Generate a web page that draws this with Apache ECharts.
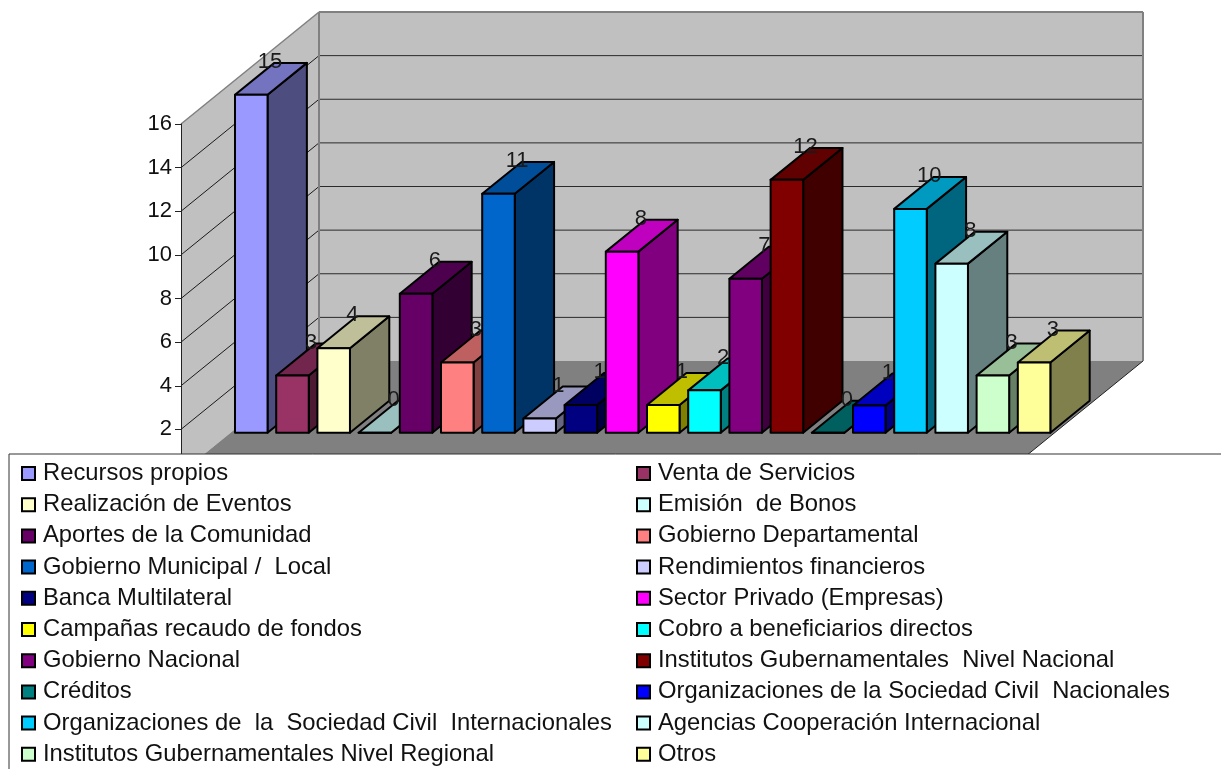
<!DOCTYPE html>
<html>
<head>
<meta charset="utf-8">
<style>html,body{margin:0;padding:0;background:#fff}#chart{width:1221px;height:769px}</style>
<script src="https://cdn.jsdelivr.net/npm/echarts@6/dist/echarts.min.js"></script>
</head>
<body>
<div id="chart"></div>
<script>
// Funding sources, in chart order
const categories = [
  'Recursos propios', 'Venta de Servicios', 'Realización de Eventos', 'Emisión  de Bonos',
  'Aportes de la Comunidad', 'Gobierno Departamental', 'Gobierno Municipal /  Local', 'Rendimientos financieros',
  'Banca Multilateral', 'Sector Privado (Empresas)', 'Campañas recaudo de fondos', 'Cobro a beneficiarios directos',
  'Gobierno Nacional', 'Institutos Gubernamentales  Nivel Nacional', 'Créditos', 'Organizaciones de la Sociedad Civil  Nacionales',
  'Organizaciones de  la  Sociedad Civil  Internacionales', 'Agencias Cooperación Internacional', 'Institutos Gubernamentales Nivel Regional', 'Otros'
];
// Underlying values; the labels above the bars show them rounded to whole numbers
const values = [15.49, 2.62, 3.87, 0, 6.37, 3.22, 10.95, 0.65, 1.27, 8.3, 1.27, 1.94, 7.06, 11.59, 0, 1.25, 10.26, 7.75, 2.62, 3.22];
const colors = [
  '#9999FF', '#993366', '#FFFFCC', '#CCFFFF', '#660066', '#FF8080', '#0066CC', '#CCCCFF', '#000080', '#FF00FF',
  '#FFFF00', '#00FFFF', '#800080', '#800000', '#008080', '#0000FF', '#00CCFF', '#CCFFFF', '#CCFFCC', '#FFFF99'
];
const yTicks = [2, 4, 6, 8, 10, 12, 14, 16];

const FONT = '"Liberation Sans", Arial, sans-serif';
const WALL = '#C0C0C0', FLOOR = '#808080', EDGE = '#808080';
// Oblique projection of the chart box: how far the back plane sits from the front plane
const DEPTH = { dx: 138, dy: -112 };
const BAR_PLANE = 0.36;    // position of the bar row inside the depth
const BAR_DEPTH = 0.285;   // bar thickness as a share of the depth
const BAR_WIDTH = 0.79;    // front face width as a share of the band

function shade(hex, k) {
  const n = parseInt(hex.slice(1), 16);
  const c = [n >> 16, (n >> 8) & 255, n & 255].map(v => Math.round(v * k));
  return `rgb(${c[0]},${c[1]},${c[2]})`;
}

function renderBox(params, api) {
  const cs = params.coordSys;
  const x0 = cs.x, x1 = cs.x + cs.width, yb = cs.y + cs.height, yt = cs.y;
  const dx = DEPTH.dx, dy = DEPTH.dy;
  const children = [];
  const poly = (pts, fill, z2) => children.push({ type: 'polygon', z2, shape: { points: pts }, style: { fill, stroke: null } });
  const line = (a, b, stroke, lw, z2) => children.push({
    type: 'line', z2, shape: { x1: a[0], y1: a[1], x2: b[0], y2: b[1] }, style: { stroke, lineWidth: lw }
  });
  // side wall, back wall, floor
  poly([[x0, yb], [x0, yt], [x0 + dx, yt + dy], [x0 + dx, yb + dy]], WALL, 1);
  poly([[x0 + dx, yb + dy], [x0 + dx, yt + dy], [x1 + dx, yt + dy], [x1 + dx, yb + dy]], WALL, 1);
  poly([[x0, yb], [x0 + dx, yb + dy], [x1 + dx, yb + dy], [x1, yb]], FLOOR, 2);
  // grid lines run across the side wall and along the back wall
  yTicks.slice(0, -1).forEach(v => {
    const y = api.coord([0, v])[1];
    line([x0, y], [x0 + dx, y + dy], '#1a1a1a', 1, 3);
    line([x0 + dx, y + dy], [x1 + dx, y + dy], '#2a2a2a', 1, 3);
  });
  // box outline
  line([x0, yt], [x0 + dx, yt + dy], EDGE, 1.5, 4);
  line([x0 + dx, yt + dy], [x1 + dx, yt + dy], EDGE, 2, 4);
  line([x0 + dx, yt + dy], [x0 + dx, yb + dy], EDGE, 2, 4);
  line([x1 + dx, yt + dy], [x1 + dx, yb + dy], EDGE, 2, 4);
  line([x1 + dx, yb + dy], [x1, yb], '#222', 1, 4);
  return { type: 'group', children };
}

function renderBar(params, api) {
  const band = api.size([1, 0])[0];
  const top = api.coord([api.value(0), api.value(1)]);
  const base = api.coord([api.value(0), 0]);
  const w = band * BAR_WIDTH;
  const ox = DEPTH.dx * BAR_PLANE, oy = DEPTH.dy * BAR_PLANE;
  const ddx = DEPTH.dx * BAR_DEPTH, ddy = DEPTH.dy * BAR_DEPTH;
  const l = top[0] + ox - w / 2, r = l + w;
  const t = top[1] + oy, b = base[1] + oy;
  const color = colors[api.value(2)];
  const border = { stroke: '#000', lineWidth: 2, lineJoin: 'round' };
  return {
    type: 'group',
    children: [
      { type: 'polygon', shape: { points: [[r, b], [r, t], [r + ddx, t + ddy], [r + ddx, b + ddy]] },
        style: Object.assign({ fill: shade(color, 0.5) }, border) },
      { type: 'polygon', shape: { points: [[l, t], [r, t], [r + ddx, t + ddy], [l + ddx, t + ddy]] },
        style: Object.assign({ fill: shade(color, 0.75) }, border) },
      { type: 'rect', shape: { x: l, y: t, width: w, height: b - t },
        style: Object.assign({ fill: color }, border) },
      { type: 'text', z2: 50, style: {
          text: String(Math.round(api.value(1))),
          x: l + w / 2 + ddx / 2 - 1, y: t + ddy - 1,
          align: 'center', verticalAlign: 'middle',
          font: '22px ' + FONT, fill: '#1a1a1a'
      } }
    ]
  };
}

const barSeries = categories.map((name, i) => ({
  type: 'custom',
  name,
  z: 5,
  clip: false,
  silent: true,
  itemStyle: { color: colors[i] },
  encode: { x: 0, y: 1 },
  renderItem: renderBar,
  data: [[i, values[i], i]]
}));

const legendBase = {
  orient: 'vertical',
  z: 200,
  top: 461,
  selectedMode: false,
  icon: 'rect',
  itemWidth: 13,
  itemHeight: 13,
  itemGap: 6.2,
  itemStyle: { borderColor: '#000', borderWidth: 2 },
  textStyle: { fontFamily: FONT, fontSize: 23.8, color: '#111', lineHeight: 25, padding: [0, 0, 0, 3] },
  padding: 0
};

const chart = echarts.init(document.getElementById('chart'), null, { renderer: 'canvas' });
chart.setOption({
  animation: false,
  backgroundColor: '#fff',
  tooltip: { show: false },
  grid: { left: 181, right: 216, top: 124, bottom: 296, containLabel: false },
  xAxis: { type: 'category', data: categories, show: false },
  yAxis: {
    type: 'value', min: 0, max: 16, interval: 2, z: 3,
    splitLine: { show: false },
    showMinLabel: false,
    axisLine: { show: true, lineStyle: { color: '#222', width: 1 } },
    axisTick: { show: true, length: 6, lineStyle: { color: '#222' } },
    axisLabel: { fontFamily: FONT, fontSize: 22, color: '#111', margin: 9 }
  },
  legend: [
    Object.assign({}, legendBase, { left: 21, data: categories.filter((_, i) => i % 2 === 0) }),
    Object.assign({}, legendBase, { left: 636, data: categories.filter((_, i) => i % 2 === 1) })
  ],
  graphic: [{
    type: 'rect', z: 100, silent: true,
    shape: { x: 9, y: 454, width: 1240, height: 340 },
    style: { fill: '#fff', stroke: '#333', lineWidth: 1 }
  }],
  series: [{
    type: 'custom', z: 1, clip: false, silent: true,
    renderItem: renderBox,
    encode: { x: 0, y: 1 },
    data: [[0, 0]]
  }].concat(barSeries)
});
</script>
</body>
</html>
